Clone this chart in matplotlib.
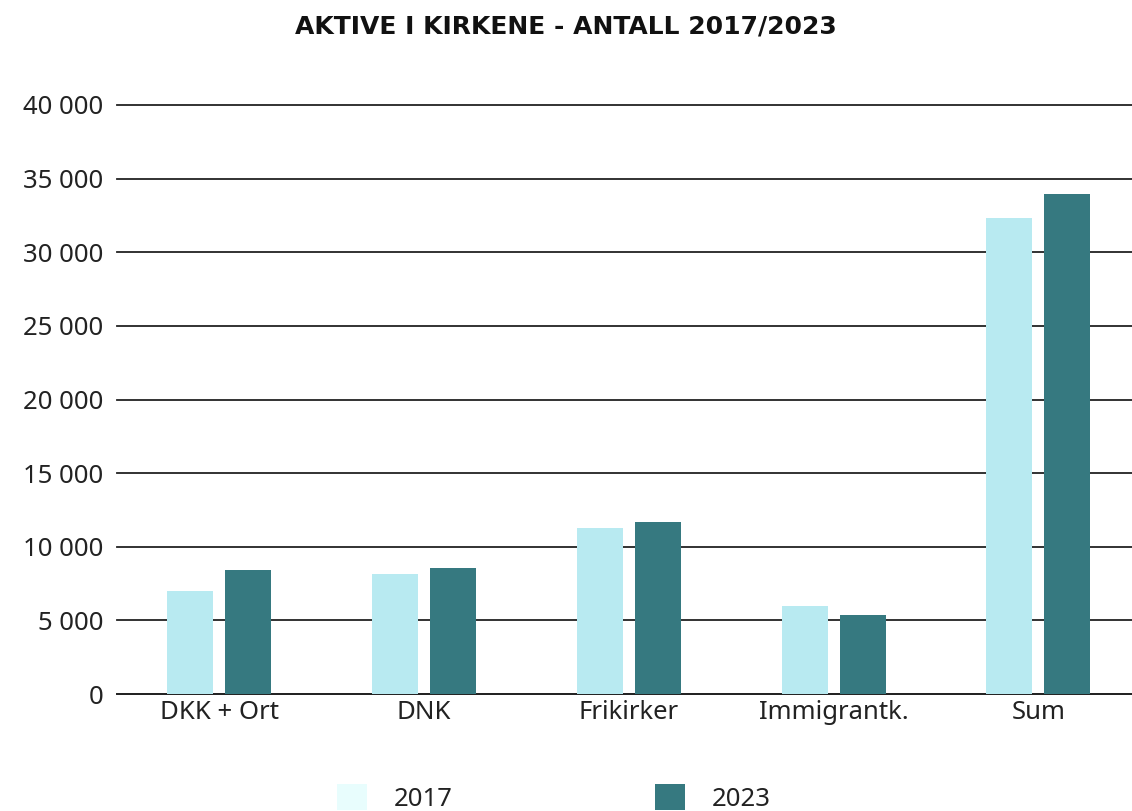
import matplotlib
matplotlib.use("Agg")
import matplotlib.pyplot as plt
import numpy as np
from matplotlib.ticker import FuncFormatter
from matplotlib.patches import Patch

categories = ["DKK + Ort", "DNK", "Frikirker", "Immigrantk.", "Sum"]
values_2017 = [6980, 8140, 11250, 5970, 32340]
values_2023 = [8400, 8540, 11660, 5360, 33960]
series_labels = ["2017", "2023"]
title = "AKTIVE I KIRKENE - ANTALL 2017/2023"

c2017 = "#B8EAF1"
c2017_legend = "#E8FDFD"
c2023 = "#367980"
txt = "#222222"

plt.rcParams['font.family'] = ['Noto Sans', 'DejaVu Sans']

fig = plt.figure(figsize=(11.32, 8.11), dpi=100)
ax = fig.add_axes([117/1132, 1-694/811, 1023.75/1132, (694-105)/811])

x = np.arange(len(categories))
w = 0.2247
off = 0.1416
ax.bar(x - off, values_2017, width=w, color=c2017, zorder=3)
ax.bar(x + off, values_2023, width=w, color=c2023, zorder=3)

ax.set_xlim(-0.5, len(categories) - 0.5)
ax.set_ylim(0, 40000)
ax.set_yticks(np.arange(0, 40001, 5000))
ax.yaxis.set_major_formatter(FuncFormatter(lambda v, p: f"{int(v):,}".replace(",", " ")))
ax.grid(axis='y', color=txt, linewidth=1.3, zorder=1)
for gl in ax.get_ygridlines():
    gl.set_clip_on(False)
ax.set_xticks(x)
ax.set_xticklabels(categories)
ax.tick_params(axis='both', length=0, labelsize=18.5, colors=txt)
ax.tick_params(axis='y', pad=10)
ax.tick_params(axis='x', pad=4)
for s in ['top', 'right', 'left']:
    ax.spines[s].set_visible(False)
ax.spines['bottom'].set_color(txt)
ax.spines['bottom'].set_linewidth(1.3)

fig.text(0.5, 1-27/811, title, ha='center', va='center', fontsize=18,
         fontweight='bold', color='#111111', family=['DejaVu Sans'])

fs = 18.5
hl = 30 / (fs * 100 / 72)
for lab, col, xpx in [(series_labels[0], c2017_legend, 337), (series_labels[1], c2023, 655)]:
    leg = fig.legend([Patch(facecolor=col)], [lab], loc='center left',
                     bbox_to_anchor=(xpx/1132, 1-798/811), frameon=False, fontsize=fs,
                     handlelength=hl, handleheight=hl, handletextpad=1.05,
                     borderpad=0, borderaxespad=0)
    for t in leg.get_texts():
        t.set_color(txt)

fig.savefig("out.png", dpi=100)
